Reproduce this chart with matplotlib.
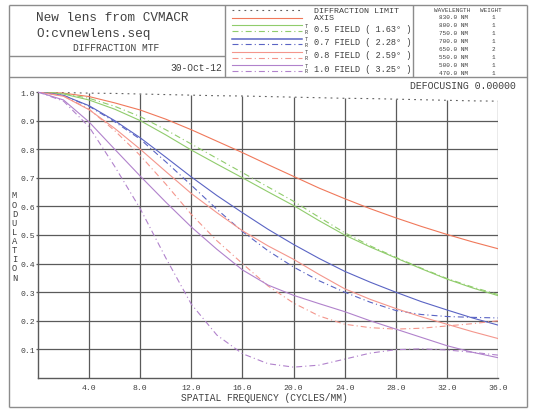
import numpy as np
import matplotlib
matplotlib.use('Agg')
import matplotlib.pyplot as plt

plt.rcParams['font.family'] = ['Liberation Mono', 'DejaVu Sans Mono']
plt.rcParams['lines.scale_dashes'] = False

# spatial frequency samples (cycles/mm)
freq = [0, 2, 4, 6, 8, 10, 12, 14, 16, 18, 20, 22, 24, 26, 28, 30, 32, 34, 36]

diff_limit = [1.0, 0.998, 0.996, 0.995, 0.993, 0.991, 0.989, 0.987, 0.986, 0.984,
              0.982, 0.980, 0.978, 0.977, 0.975, 0.973, 0.971, 0.969, 0.968]
axis_mtf = [1.0, 0.996, 0.984, 0.962, 0.937, 0.905, 0.868, 0.828, 0.788, 0.746,
            0.705, 0.664, 0.627, 0.592, 0.560, 0.530, 0.502, 0.476, 0.452]
f05_t = [1.0, 0.993, 0.972, 0.940, 0.900, 0.850, 0.797, 0.748, 0.700, 0.651,
         0.603, 0.550, 0.500, 0.458, 0.420, 0.382, 0.346, 0.315, 0.288]
f05_r = [1.0, 0.995, 0.978, 0.950, 0.914, 0.868, 0.818, 0.768, 0.718, 0.668,
         0.618, 0.562, 0.508, 0.462, 0.422, 0.384, 0.348, 0.318, 0.292]
f07_t = [1.0, 0.988, 0.952, 0.900, 0.840, 0.772, 0.703, 0.638, 0.578, 0.520,
         0.467, 0.418, 0.373, 0.335, 0.300, 0.267, 0.238, 0.210, 0.185]
f07_r = [1.0, 0.988, 0.950, 0.896, 0.835, 0.756, 0.674, 0.590, 0.512, 0.445,
         0.388, 0.340, 0.300, 0.265, 0.236, 0.222, 0.215, 0.212, 0.210]
f08_t = [1.0, 0.985, 0.938, 0.873, 0.800, 0.722, 0.645, 0.578, 0.515, 0.462,
         0.415, 0.362, 0.312, 0.275, 0.243, 0.214, 0.188, 0.162, 0.138]
f08_r = [1.0, 0.986, 0.940, 0.865, 0.778, 0.678, 0.572, 0.480, 0.400, 0.322,
         0.262, 0.217, 0.188, 0.176, 0.171, 0.174, 0.182, 0.190, 0.200]
f10_t = [1.0, 0.972, 0.895, 0.800, 0.706, 0.615, 0.528, 0.450, 0.378, 0.325,
         0.289, 0.260, 0.232, 0.200, 0.171, 0.142, 0.113, 0.090, 0.071]
f10_r = [1.0, 0.968, 0.878, 0.740, 0.592, 0.420, 0.258, 0.150, 0.085, 0.050,
         0.038, 0.045, 0.066, 0.087, 0.099, 0.102, 0.098, 0.090, 0.080]

field_labels = ['0.5 FIELD ( 1.63\u00b0 )', '0.7 FIELD ( 2.28\u00b0 )',
                '0.8 FIELD ( 2.59\u00b0 )', '1.0 FIELD ( 3.25\u00b0 )']
wavelengths = ['830.0 NM', '800.0 NM', '750.0 NM', '700.0 NM',
               '650.0 NM', '550.0 NM', '500.0 NM', '470.0 NM']
weights = [1, 1, 1, 1, 2, 1, 1, 1]

xticks = [4, 8, 12, 16, 20, 24, 28, 32, 36]
yticks = [0.1, 0.2, 0.3, 0.4, 0.5, 0.6, 0.7, 0.8, 0.9, 1.0]

c_axis = '#f0785a'
c_green = '#90cc6c'
c_blue = '#5a64c4'
c_pink = '#f4968c'
c_purple = '#b182cc'
txt = '#404040'
frame = '#8c8c8c'
grid = '#5a5a5a'

dashdot = (0, (4.3, 2.2, 0.8, 2.2))
dotted = (0, (1.3, 3.0))

W, H = 535, 410
fig = plt.figure(figsize=(W / 100, H / 100), dpi=100)
fig.patch.set_facecolor('white')

# overlay in pixel coordinates for the frames and header
ov = fig.add_axes([0, 0, 1, 1])
ov.set_xlim(0, W)
ov.set_ylim(H, 0)
ov.axis('off')

def seg(x0, y0, x1, y1):
    ov.plot([x0, x1], [y0, y1], color=frame, lw=1.0, solid_capstyle='butt')

seg(9, 6, 527, 6)
seg(9, 408, 527, 408)
seg(9, 6, 9, 408)
seg(527, 6, 527, 408)
seg(9, 78, 527, 78)
seg(9, 57, 225, 57)
seg(225, 6, 225, 78)
seg(413, 6, 413, 78)

ov.text(36, 18, 'New lens from CVMACR', fontsize=9.2, color=txt, va='center', ha='left')
ov.text(36, 33.5, 'O:cvnewlens.seq', fontsize=9.2, color=txt, va='center', ha='left')
ov.text(116, 48, 'DIFFRACTION MTF', fontsize=6.9, color=txt, va='center', ha='center')
ov.text(222.5, 68, '30-Oct-12', fontsize=6.9, color=txt, va='center', ha='right')

# legend samples
lx0, lx1 = 232, 302
ov.plot([lx0, lx1], [11, 11], color='#606060', lw=0.8, linestyle=dotted)
ov.plot([lx0, lx1], [19.3, 19.3], color=c_axis, lw=0.8)
ov.text(314, 11.3, 'DIFFRACTION LIMIT', fontsize=6.0, color=txt, va='center')
ov.text(314, 19, 'AXIS', fontsize=6.0, color=txt, va='center')
field_cols = [c_green, c_blue, c_pink, c_purple]
for i, (lab, col) in enumerate(zip(field_labels, field_cols)):
    yt = 26.2 + i * 13.3
    yr = yt + 5.8
    ov.plot([lx0, lx1], [yt, yt], color=col, lw=1.1 if col == c_blue else 0.8)
    ov.plot([lx0, lx1], [yr, yr], color=col, lw=0.8, linestyle=dashdot)
    ov.text(306.5, yt, 'T', fontsize=3.8, color=txt, va='center', ha='center')
    ov.text(306.5, yr, 'R', fontsize=3.8, color=txt, va='center', ha='center')
    ov.text(313.5, (yt + yr) / 2, lab, fontsize=6.2, color=txt, va='center')

# wavelength table
ov.text(452, 10, 'WAVELENGTH', fontsize=4.3, color=txt, va='center', ha='center')
ov.text(491, 10, 'WEIGHT', fontsize=4.3, color=txt, va='center', ha='center')
for i, (wl, wt) in enumerate(zip(wavelengths, weights)):
    yy = 17.3 + i * 8.0
    ov.text(453.5, yy, wl, fontsize=4.3, color=txt, va='center', ha='center')
    ov.text(493, yy, str(wt), fontsize=4.3, color=txt, va='center', ha='center')

ov.text(515.7, 86, 'DEFOCUSING 0.00000', fontsize=7.1, color=txt, va='center', ha='right')

# MTF plot
left, right, top, bottom = 38, 498, 93, 379
ax = fig.add_axes([left / W, 1 - bottom / H, (right - left) / W, (bottom - top) / H])
ax.set_facecolor('none')
ax.set_xlim(0, 36)
ax.set_ylim(0, 1.0)
for s in ['top', 'right']:
    ax.spines[s].set_visible(False)
for s in ['left', 'bottom']:
    ax.spines[s].set_color(grid)
    ax.spines[s].set_linewidth(1.0)

# grid: horizontal lines full width, vertical lines up to the diffraction limit curve
ax.hlines(yticks[:-1], 0, 36, color=grid, lw=0.9, zorder=1)
top_vals = np.interp(xticks, freq, diff_limit)
ax.vlines(xticks, 0, top_vals, color=grid, lw=0.9, zorder=1)

ax.plot(freq, diff_limit, color='#606060', lw=0.8, linestyle=dotted, zorder=3)
ax.plot(freq, axis_mtf, color=c_axis, lw=0.8, zorder=3)
series = [(f05_t, f05_r, c_green), (f07_t, f07_r, c_blue),
          (f08_t, f08_r, c_pink), (f10_t, f10_r, c_purple)]
for t, r, col in series:
    ax.plot(freq, t, color=col, lw=0.8, zorder=3)
    ax.plot(freq, r, color=col, lw=0.8, linestyle=dashdot, zorder=3)

ax.set_xticks(xticks)
ax.set_xticklabels(['%.1f' % v for v in xticks])
ax.set_yticks(yticks)
ax.set_yticklabels(['%.1f' % v for v in yticks])
ax.tick_params(axis='x', length=0, pad=4.5, labelsize=5.9, labelcolor=txt)
ax.tick_params(axis='y', length=1.8, width=0.9, color=grid, pad=0.3, labelsize=5.9, labelcolor=txt)

ov.text(264, 398, 'SPATIAL FREQUENCY (CYCLES/MM)', fontsize=6.9, color=txt,
        va='center', ha='center')
ov.text(14.5, 237, '\n'.join('MODULATION'), fontsize=6.3, color=txt,
        va='center', ha='center', linespacing=1.02)

fig.savefig('out.png', dpi=100)
